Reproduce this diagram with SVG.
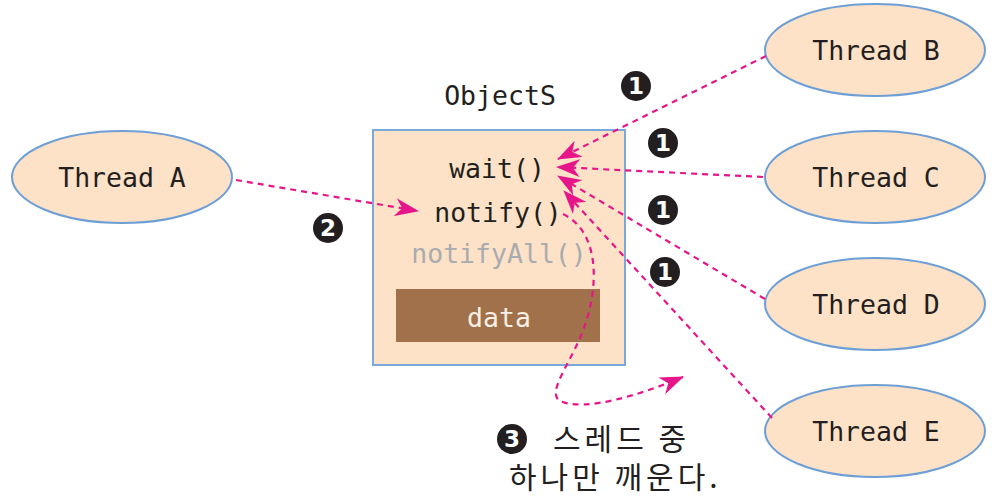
<svg xmlns="http://www.w3.org/2000/svg" width="992" height="500" viewBox="0 0 992 500">
<defs>
<style>
.ell{fill:#fde2c7;stroke:#6d9fd6;stroke-width:2}
.mono{font-family:"DejaVu Sans Mono","Liberation Mono",monospace;font-size:26.5px;fill:#231f20}
.lbl{text-anchor:middle}
.con{fill:none;stroke:#e6168a;stroke-width:2.2;stroke-dasharray:6 5}
.num{fill:#231f20}
.numt{font-family:"DejaVu Sans","Liberation Sans",sans-serif;font-size:23px;font-weight:bold;fill:#ffffff;text-anchor:middle}
.ko{font-family:"Noto Sans CJK KR","Noto Sans",sans-serif;font-size:30px;letter-spacing:4px;fill:#231f20}
</style>
<marker id="ah" viewBox="0 0 24 18" refX="23" refY="9" markerWidth="24" markerHeight="18" markerUnits="userSpaceOnUse" orient="auto">
<path d="M0,0 L24,9 L0,18 L7,9 z" fill="#e6168a"/>
</marker>
</defs>

<g id="objectS">
<text class="mono lbl" x="500" y="105">ObjectS</text>
<rect x="373" y="130" width="252" height="235" fill="#fde2c7" stroke="#7aa8dc" stroke-width="2"/>
<text class="mono lbl" x="497" y="178">wait()</text>
<text class="mono lbl" x="498" y="222">notify()</text>
<text class="mono lbl" x="499" y="263" style="fill:#a9acae">notifyAll()</text>
<rect x="396" y="289" width="204" height="53" fill="#a0714b"/>
<text class="mono lbl" x="499" y="327" style="fill:#f7efe3">data</text>
</g>

<g id="threadA">
<ellipse class="ell" cx="122" cy="177" rx="110" ry="46"/>
<text class="mono lbl" x="122" y="187">Thread A</text>
</g>
<g id="threadB">
<ellipse class="ell" cx="875" cy="50" rx="110" ry="46"/>
<text class="mono lbl" x="876" y="60">Thread B</text>
</g>
<g id="threadC">
<ellipse class="ell" cx="875" cy="177" rx="110" ry="46"/>
<text class="mono lbl" x="876" y="187">Thread C</text>
</g>
<g id="threadD">
<ellipse class="ell" cx="875" cy="304" rx="110" ry="46"/>
<text class="mono lbl" x="876" y="314">Thread D</text>
</g>
<g id="threadE">
<ellipse class="ell" cx="875" cy="431" rx="110" ry="46"/>
<text class="mono lbl" x="876" y="441">Thread E</text>
</g>

<g id="connectors">
<path class="con" d="M236,180 L418,211" marker-end="url(#ah)"/>
<path class="con" d="M766,56 L558,159" marker-end="url(#ah)"/>
<path class="con" d="M763,177 L557,167" marker-end="url(#ah)"/>
<path class="con" d="M765,299 L558,176" marker-end="url(#ah)"/>
<path class="con" d="M772,418 L564,191" marker-end="url(#ah)"/>
<path class="con" d="M563,214 C600,232 598,285 586,322 C574,360 545,392 560,401 C585,412 640,395 683,377" marker-end="url(#ah)"/>
</g>

<g id="markers">
<circle class="num" cx="636" cy="86" r="15"/><text class="numt" x="636" y="94">1</text>
<circle class="num" cx="663" cy="143" r="15"/><text class="numt" x="663" y="151">1</text>
<circle class="num" cx="663" cy="210" r="15"/><text class="numt" x="663" y="218">1</text>
<circle class="num" cx="665" cy="272" r="15"/><text class="numt" x="665" y="280">1</text>
<circle class="num" cx="328" cy="228" r="15"/><text class="numt" x="328" y="236">2</text>
<circle class="num" cx="512" cy="439" r="15"/><text class="numt" x="512" y="447">3</text>
</g>

<g id="note">
<text class="ko"><tspan x="553" y="450">스레드 중</tspan><tspan x="509" y="488">하나만 깨운다.</tspan></text>
</g>
</svg>
